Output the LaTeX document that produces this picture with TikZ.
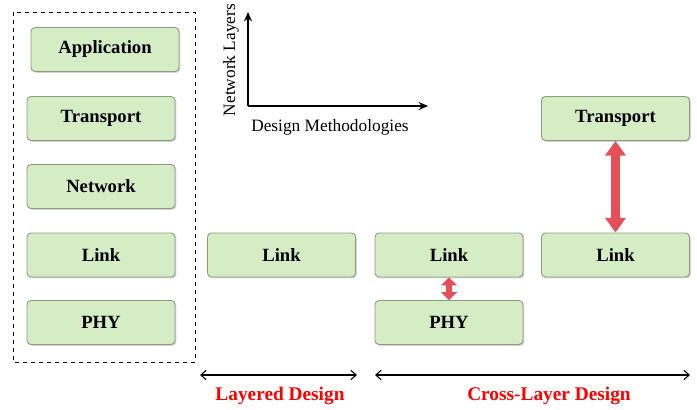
\documentclass[tikz,border=0pt]{standalone}
\usepackage{fontspec}
\setmainfont{Liberation Serif}
\usetikzlibrary{arrows.meta,shadows}
\definecolor{boxgreen}{RGB}{214,236,197}
\definecolor{boxedge}{RGB}{140,158,128}
\definecolor{arrowred}{RGB}{230,78,88}
\definecolor{labelred}{RGB}{255,0,0}

\begin{document}
\begin{tikzpicture}[x=0.75pt,y=-0.75pt,
        layerbox/.style={draw=boxedge,line width=0.7pt,fill=boxgreen,rounded corners=3pt,
            minimum width=111pt,minimum height=33pt,
            font=\fontsize{14}{16}\selectfont\bfseries,
            drop shadow={shadow xshift=1pt,shadow yshift=-1pt,opacity=0.35}},
        axisarrow/.style={line width=1.6pt,-{Stealth[length=7pt,width=6pt]}},
        spanarrow/.style={line width=0.8pt,{Straight Barb[length=4pt,width=7pt]}-{Straight Barb[length=4pt,width=7pt]}},
        fatarrow/.style={arrowred,line width=4.5pt,
            {Triangle[length=6pt,width=12pt]}-{Triangle[length=6pt,width=12pt]}},
        bigarrow/.style={arrowred,line width=6.5pt,
            {Triangle[length=11pt,width=15pt]}-{Triangle[length=11pt,width=15pt]}},
        designlabel/.style={labelred,font=\fontsize{14.5}{16}\selectfont\bfseries}]
    \useasboundingbox (0,0) rectangle (697,410);
    % the full stack
    \draw[dashed,thin] (13,12) rectangle (195,362);
    \node[layerbox] (app) at (105,49.5) {Application};
    \node[layerbox] (trans) at (101,118.5) {Transport};
    \node[layerbox] (net) at (101,186.5) {Network};
    \node[layerbox] (link) at (101,255) {Link};
    \node[layerbox] (phy) at (101,322.5) {PHY};
    % axes
    \coordinate (origin) at (248,106);
    \coordinate (ytip) at (248,12);
    \coordinate (xtip) at (428,106);
    \draw[axisarrow] (origin) -- (ytip);
    \draw[axisarrow] (origin) -- (xtip);
    \node[rotate=90,font=\fontsize{13}{15}\selectfont] (ylab) at (231,60) {Network Layers};
    \node[font=\fontsize{13}{15}\selectfont] (xlab) at (330,127) {Design Methodologies};
    % layered design
    \node[layerbox] (mlink) at (281.5,255) {Link};
    % cross-layer design
    \node[layerbox] (clink) at (449,255) {Link};
    \node[layerbox] (cphy) at (449,322.5) {PHY};
    \node[layerbox] (rtrans) at (615.5,118.5) {Transport};
    \node[layerbox] (rlink) at (615.5,255) {Link};
    \draw[fatarrow] (clink.south) -- (cphy.north);
    \draw[bigarrow] (rlink.north) -- (rtrans.south);
    % spans
    \coordinate (layl) at (200,375);
    \coordinate (layr) at (357,375);
    \coordinate (crossl) at (375,375);
    \coordinate (crossr) at (690,375);
    \draw[spanarrow] (layl) -- (layr);
    \draw[spanarrow] (crossl) -- (crossr);
    \node[designlabel] (laylab) at (280,396) {Layered Design};
    \node[designlabel] (crosslab) at (549,396) {Cross-Layer Design};
\end{tikzpicture}
\end{document}
